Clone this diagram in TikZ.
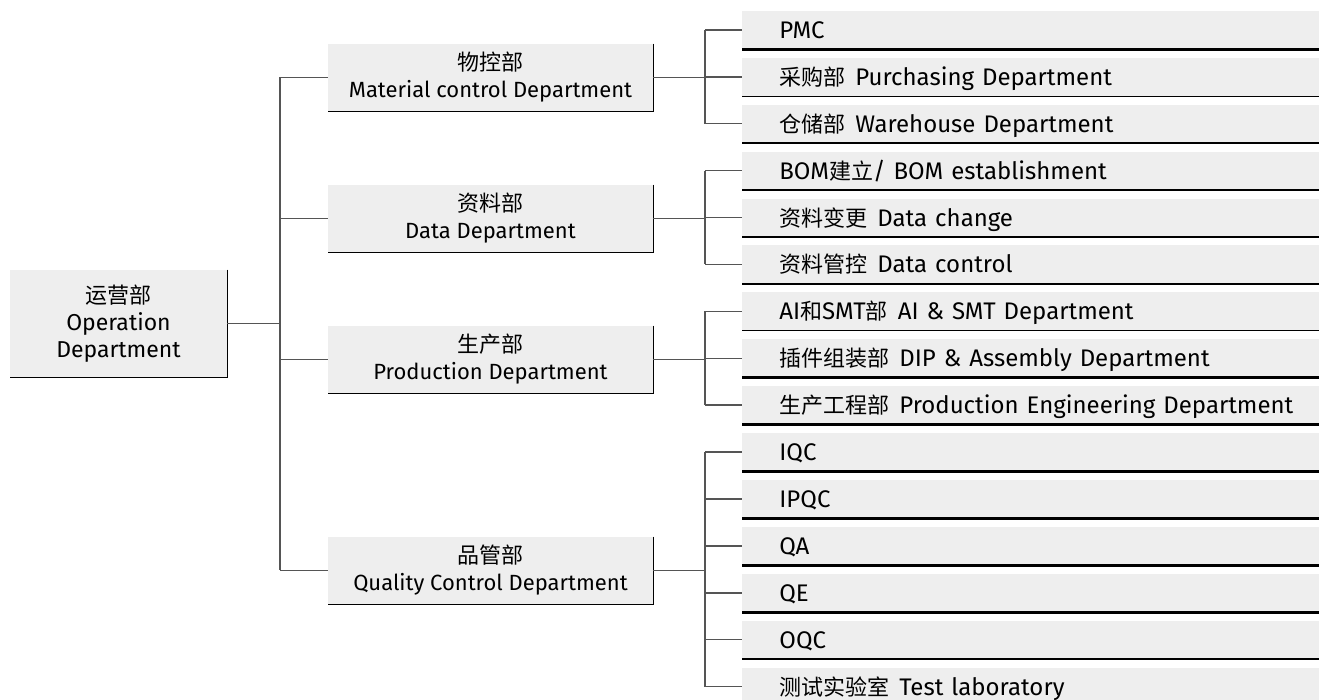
\documentclass[tikz,border=0pt]{standalone}
\usepackage{fontspec}
\setmainfont{Fira Sans}
\newfontfamily\cjkfont{Noto Sans CJK SC}
\newcommand\zh[1]{{\cjkfont\fontsize{11}{13.5}\selectfont #1}}
\newcommand\gap{\hspace{5pt}}
\usetikzlibrary{positioning}
\definecolor{boxgray}{HTML}{EEEEEE}
\definecolor{linegray}{HTML}{555555}

\begin{document}
\begin{tikzpicture}[%
	x=0.5pt, y=-0.5pt,
	dept/.style={fill=boxgray, inner sep=0pt, align=center,
		font=\fontsize{11}{13.5}\selectfont,
		minimum width=162.5pt, minimum height=33.5pt},
	topdept/.style={dept, font=\fontsize{11.5}{13.5}\selectfont,
		minimum width=108.5pt, minimum height=53.5pt},
	unit/.style={fill=boxgray, inner sep=0pt, anchor=west,
		font=\fontsize{12}{14}\selectfont,
		text height=8.5pt, text depth=0pt,
		minimum height=19pt, text width=288.5pt, align=left},
	rim/.style={draw=black, line width=0.7pt},
	link/.style={draw=linegray, line width=0.7pt}
	]
	\clip (0,0) rectangle (1319,700);
	
	% root
	\node[topdept] (ops) at (118.5,323.5) {\zh{运营部}\\Operation\\Department};
	
	% departments
	\node[dept] (mat)  at (490.5,77.5)  {\zh{物控部}\\Material control Department};
	\node[dept] (data) at (490.5,218.5) {\zh{资料部}\\Data Department};
	\node[dept] (prod) at (490.5,359.5) {\zh{生产部}\\Production Department};
	\node[dept] (qc)   at (490.5,570.5) {\zh{品管部}\\Quality Control Department};
	
	\foreach \n in {ops,mat,data,prod,qc}
	\draw[rim] (\n.north east) -- (\n.south east) -- (\n.south west);
	
	% sections
	\foreach \k/\n/\t in {%
		0/pmc/{PMC},
		1/buy/{\zh{采购部}\gap Purchasing Department},
		2/ware/{\zh{仓储部}\gap Warehouse Department},
		3/bom/{BOM\zh{建立}/ BOM establishment},
		4/chg/{\zh{资料变更}\gap Data change},
		5/ctl/{\zh{资料管控}\gap Data control},
		6/smt/{AI\zh{和}SMT\zh{部}\gap AI \& SMT Department},
		7/dip/{\zh{插件组装部}\gap DIP \& Assembly Department},
		8/eng/{\zh{生产工程部}\gap Production Engineering Department},
		9/iqc/{IQC},
		10/ipqc/{IPQC},
		11/qa/{QA},
		12/qe/{QE},
		13/oqc/{OQC},
		14/lab/{\zh{测试实验室}\gap Test laboratory}}
	{
		\node[unit] (\n) at (742,30+46.9*\k) {\hspace{18.5pt}\t};
	}
	
	% bottom rules
	\foreach \n in {pmc,bom,chg,dip,eng,iqc,ipqc,qa,qe}
	\draw[rim, line width=1.4pt] (\n.south west) -- (\n.south east);
	\foreach \n in {buy,ware,ctl,smt,oqc}
	\draw[rim] (\n.south west) -- (\n.south east);
	
	% connectors
	\coordinate (trunk) at (280,0);
	\draw[link] (ops.east) -- (trunk |- ops.east);
	\draw[link] (trunk |- mat.west) -- (trunk |- qc.west);
	\foreach \n in {mat,data,prod,qc}
	\draw[link] (trunk |- \n.west) -- (\n.west);
	
	\coordinate (spine) at (705,0);
	\foreach \p/\a/\b in {mat/pmc/ware, data/bom/ctl, prod/smt/eng, qc/iqc/lab}
	{
		\draw[link] (\p.east) -- (spine |- \p.east);
		\draw[link] (spine |- \a.west) -- (spine |- \b.west);
	}
	\foreach \n in {pmc,buy,ware,bom,chg,ctl,smt,dip,eng,iqc,ipqc,qa,qe,oqc,lab}
	\draw[link] (spine |- \n.west) -- (\n.west);
\end{tikzpicture}
\end{document}
